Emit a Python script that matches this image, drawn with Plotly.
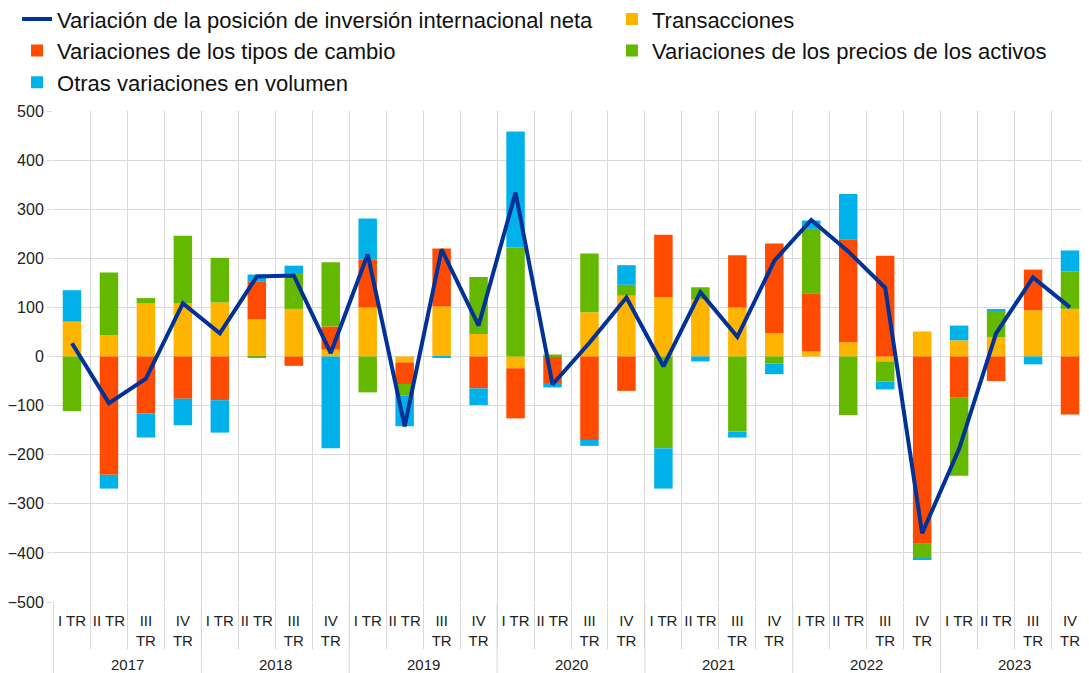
import plotly.graph_objects as go

years = ["2017", "2018", "2019", "2020", "2021", "2022", "2023"]
quarters = ["I TR", "II TR", "III<br>TR", "IV<br>TR"]

net_iip = [27, -95, -45, 108, 47, 163, 165, 7, 208, -142, 218, 63, 334, -57,
           28, 120, -20, 131, 40, 195, 278, 214, 140, -360, -188, 47, 161, 100]
transactions = [71, 44, 108, 108, 110, 76, 97, 14, 100, -12, 102, 46, -24, 0,
                90, 124, 121, 116, 100, 48, 10, 29, -10, 51, 33, 39, 94, 97]
exchange_rates = [0, -241, -116, -86, -89, 76, -19, 47, 98, -44, 118, -65, -102, -54,
                  -170, -70, 127, 0, 106, 182, 119, 210, 205, -380, -84, -50, 83, -118]
asset_prices = [-111, 127, 11, 138, 91, -3, 73, 131, -73, -24, 0, 116, 222, 4,
                120, 22, -187, 25, -153, -14, 131, -119, -41, -32, -159, 55, 0, 76]
other_volume = [64, -28, -49, -54, -66, 15, 15, -187, 83, -62, -3, -34, 236, -9,
                -12, 40, -82, -10, -12, -22, 17, 92, -16, -2, 30, 2, -16, 43]

# unique category keys (year + quarter) and their displayed tick labels
x = [f"{y} {q}" for y in years for q in quarters]
tick_text = [q for _ in years for q in quarters]

font_family = "Liberation Sans, Arial, sans-serif"
grid = "#d9d9d9"

fig = go.Figure()
fig.add_trace(go.Scatter(x=x, y=net_iip, mode="lines",
                         name="Variación de la posición de inversión internacional neta",
                         line=dict(color="#003299", width=4), legend="legend",
                         legendrank=1))
series = [
    ("Transacciones", transactions, "#FFB400", "legend2", 1),
    ("Variaciones de los tipos de cambio", exchange_rates, "#FF4B00", "legend", 2),
    ("Variaciones de los precios de los activos", asset_prices, "#65B800", "legend2", 2),
    ("Otras variaciones en volumen", other_volume, "#00B1EA", "legend", 3),
]
for name, vals, col, leg, rank in series:
    fig.add_trace(go.Bar(x=x, y=vals, name=name, legend=leg, legendrank=rank,
                         marker=dict(color=col, line=dict(width=0))))

legend_common = dict(orientation="v", xref="container", yref="paper",
                     y=1.2298, xanchor="left", yanchor="top",
                     font=dict(size=22, color="#111111"),
                     tracegroupgap=0, itemwidth=30, bgcolor="rgba(0,0,0,0)",
                     traceorder="normal")

nq = len(quarters)
# year group labels and dividers below the category axis
annotations = [dict(text=y, x=i * nq + (nq - 1) / 2, xref="x", y=-0.128, yref="paper",
                    yanchor="middle", xanchor="center", showarrow=False,
                    font=dict(size=15, color="#222222"))
               for i, y in enumerate(years)]
shapes = [dict(type="line", xref="x", yref="paper", x0=i * nq - 0.5, x1=i * nq - 0.5,
               y0=0, y1=-0.2, line=dict(color=grid, width=1), layer="below")
          for i in range(len(years) + 1)]

fig.update_layout(
    width=1089, height=673,
    barmode="relative", bargap=0.5,
    paper_bgcolor="white", plot_bgcolor="white",
    margin=dict(l=45, r=8, t=103, b=79, autoexpand=False),
    font=dict(family=font_family, color="#222222", size=15),
    showlegend=True,
    legend=dict(x=0.0083, **legend_common),
    legend2=dict(x=0.5546, **legend_common),
    annotations=annotations,
    shapes=shapes,
)
fig.update_yaxes(range=[-500, 500], dtick=100, showgrid=True, gridcolor=grid, gridwidth=1,
                 zeroline=False, ticks="outside", ticklen=5, tickcolor=grid,
                 tickfont=dict(size=16, color="#222222"), showline=False)
fig.update_xaxes(type="category", tickmode="array", tickvals=x, ticktext=tick_text,
                 tickson="boundaries", showgrid=True, gridcolor=grid,
                 gridwidth=1, ticks="outside", ticklen=46, tickcolor=grid, tickangle=0,
                 ticklabelstandoff=8,
                 tickfont=dict(size=15, color="#222222"), showline=False, zeroline=False)

fig.write_html("out.html")
